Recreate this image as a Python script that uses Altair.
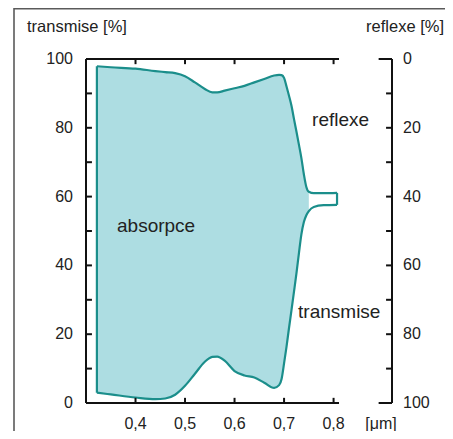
import altair as alt
import pandas as pd

# ---------------- data ----------------
wavelength = [0.322, 0.35, 0.40, 0.44, 0.46, 0.48, 0.50, 0.52, 0.54, 0.555, 0.565,
              0.58, 0.60, 0.62, 0.64, 0.66, 0.68, 0.69, 0.695, 0.70, 0.705, 0.71,
              0.715, 0.72, 0.725, 0.73, 0.735, 0.74, 0.745, 0.75, 0.76, 0.78, 0.807]
reflexe = [2.1, 2.4, 2.8, 3.5, 3.8, 4.1, 5.0, 6.8, 8.7, 9.7, 9.7,
           9.2, 8.5, 7.8, 6.8, 5.8, 4.8, 4.6, 4.7, 5.5, 8.0, 10.7,
           13.6, 17.4, 21.1, 24.9, 28.8, 33.5, 37.2, 38.6, 39.0, 39.0, 38.9]
transmise = [3.0, 2.5, 1.6, 1.1, 1.3, 2.4, 5.0, 8.5, 12.0, 13.4, 13.5,
             12.3, 9.3, 8.0, 7.4, 5.9, 4.4, 5.2, 7.0, 11.5, 16.4, 21.8,
             27.0, 32.3, 37.7, 43.5, 49.0, 52.6, 54.6, 55.8, 57.0, 57.5, 57.6]

x_ticks = [0.4, 0.5, 0.6, 0.7, 0.8]
y_ticks = [0, 10, 20, 30, 40, 50, 60, 70, 80, 90, 100]
transmise_labels = [0, 20, 40, 60, 80, 100]
reflexe_labels = [0, 20, 40, 60, 80, 100]

annot_text = ["absorpce", "reflexe", "transmise"]
annot_x = [0.3626, 0.7566, 0.7283]
annot_y = [49.6, 80.5, 24.6]

# ---------------- constants (layout / style) ----------------
X_MIN, X_MAX = 0.3, 0.918
X_AXIS_END = 0.811
TICK_X = 0.012      # horizontal tick length (x units)
TICK_Y = 1.5        # vertical tick length (y units)
LONG_TICK = 0.027
FILL = "#addde2"
LINE = "#1b8e8b"
INK = "#111111"
TXT = "#222222"
FONT = "Liberation Sans"

df = pd.DataFrame({"wl": wavelength, "reflexe": reflexe, "transmise": transmise})
df["horni"] = 100 - df["reflexe"]

xsc = alt.Scale(domain=[X_MIN, X_MAX], nice=False, zero=False)
ysc = alt.Scale(domain=[0, 100], nice=False, zero=False)


def X(field):
    return alt.X(field, scale=xsc, axis=None)


def Y(field):
    return alt.Y(field, scale=ysc, axis=None)


base = alt.Chart(df)

area = base.transform_filter("datum.wl <= 0.75").mark_area(
    color=FILL, interpolate="monotone", opacity=1
).encode(x=X("wl:Q"), y=Y("transmise:Q"), y2="horni:Q")

top_line = base.mark_line(color=LINE, strokeWidth=2.2, interpolate="monotone").encode(
    x=X("wl:Q"), y=Y("horni:Q"))
bottom_line = base.mark_line(color=LINE, strokeWidth=2.2, interpolate="monotone").encode(
    x=X("wl:Q"), y=Y("transmise:Q"))
edges = alt.Chart(df.iloc[[0, -1]]).mark_rule(color=LINE, strokeWidth=2.2).encode(
    x=X("wl:Q"), y=Y("transmise:Q"), y2="horni:Q")

# axis skeleton: lines and inward ticks
seg = [
    (X_MIN, X_AXIS_END, 0, 0),
    (X_MIN, X_AXIS_END, 100, 100),
    (X_MIN, X_MIN, 0, 100),
    (X_MAX, X_MAX, 0, 100),
] + [(t, t, 100, 100 - TICK_Y) for t in x_ticks] \
  + [(t, t, 0, TICK_Y) for t in x_ticks] \
  + [(X_MIN, X_MIN + TICK_X, v, v) for v in y_ticks[1:-1]] \
  + [(X_MAX - TICK_X, X_MAX, v, v) for v in y_ticks[1:-1]] + [
    (X_MAX - LONG_TICK, X_MAX, 0, 0),
    (X_MAX - LONG_TICK, X_MAX, 100, 100),
]
seg_df = pd.DataFrame(seg, columns=["x", "x2", "y", "y2"])
skeleton = alt.Chart(seg_df).mark_rule(color=INK, strokeWidth=2).encode(
    x=X("x:Q"), x2="x2:Q", y=Y("y:Q"), y2="y2:Q")

# tick labels
xl = alt.Chart(pd.DataFrame({"v": x_ticks})).transform_calculate(
    lab="replace(format(datum.v, '.1f'), '.', ',')", y0="0"
).mark_text(font=FONT, fontSize=16, color=TXT, align="center", baseline="alphabetic", dy=26).encode(
    x=X("v:Q"), y=Y("y0:Q"), text="lab:N")

ll = alt.Chart(pd.DataFrame({"v": transmise_labels})).transform_calculate(
    x0=str(X_MIN)
).mark_text(font=FONT, fontSize=16, color=TXT, align="right", baseline="middle", dx=-13).encode(
    x=X("x0:Q"), y=Y("v:Q"), text="v:Q")

rl = alt.Chart(pd.DataFrame({"r": reflexe_labels})).transform_calculate(
    pos="100 - datum.r", wx=str(X_MAX)
).mark_text(font=FONT, fontSize=16, color=TXT, align="left", baseline="middle", dx=11).encode(
    x=X("wx:Q"), y=Y("pos:Q"), text="r:Q")

ann_df = pd.DataFrame({"t": annot_text, "x": annot_x, "y": annot_y})
annotations = alt.Chart(ann_df).mark_text(
    font=FONT, fontSize=19, color=TXT, align="left", baseline="alphabetic"
).encode(x=X("x:Q"), y=Y("y:Q"), text="t:N")

t_left = alt.Chart(pd.DataFrame({"t": ["transmise [%]"]})).mark_text(
    font=FONT, fontSize=16.5, color=TXT, align="left", baseline="alphabetic"
).encode(x=alt.value(-59), y=alt.value(-27), text="t:N")
t_right = alt.Chart(pd.DataFrame({"t": ["reflexe [%]"]})).mark_text(
    font=FONT, fontSize=16.5, color=TXT, align="right", baseline="alphabetic"
).encode(x=alt.value(358), y=alt.value(-27), text="t:N")
t_unit = alt.Chart(pd.DataFrame({"t": ["[μm]"]})).mark_text(
    font=FONT, fontSize=16, color=TXT, align="center", baseline="alphabetic"
).encode(x=alt.value(295), y=alt.value(370), text="t:N")

frame_top = alt.Chart(pd.DataFrame({"a": [0]})).mark_rule(color="#5a5a5a", strokeWidth=1.6).encode(
    x=alt.value(-72), x2=alt.value(360), y=alt.value(-50.2))
frame_left = alt.Chart(pd.DataFrame({"a": [0]})).mark_rule(color="#5a5a5a", strokeWidth=1.6).encode(
    x=alt.value(-72), y=alt.value(-51), y2=alt.value(372))

chart = alt.layer(
    area, top_line, bottom_line, edges, skeleton, xl, ll, rl, annotations,
    t_left, t_right, t_unit, frame_top, frame_left
).properties(
    width=306, height=344,
    padding={"left": 78, "top": 51, "right": 53, "bottom": 28},
    autosize=alt.AutoSizeParams(type="none"),
    background="white",
).configure_view(stroke=None)

chart.save("out.html", embed_options={"renderer": "svg", "actions": False})
